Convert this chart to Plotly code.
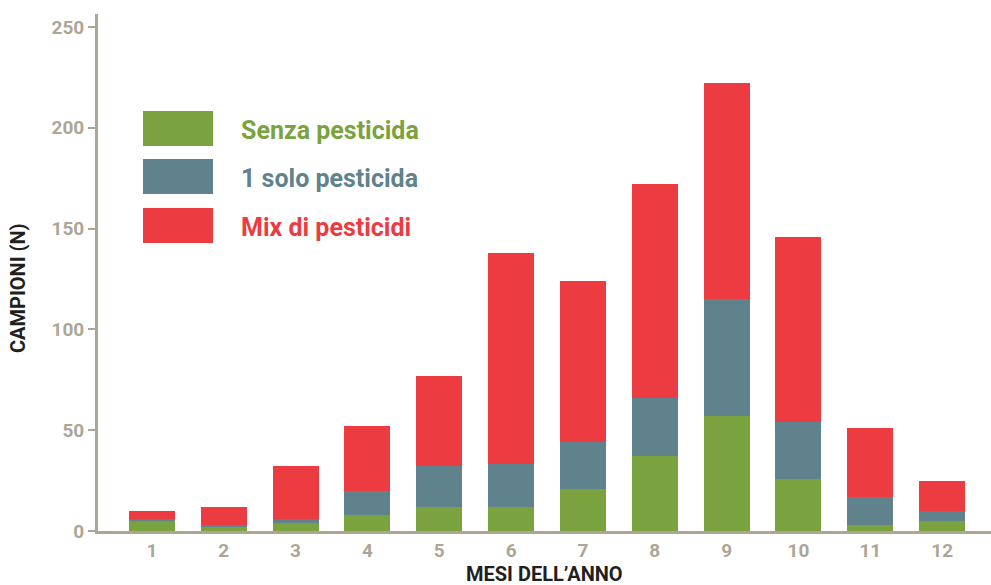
import plotly.graph_objects as go

# Monthly sample counts, split by pesticide residue outcome
months = [1, 2, 3, 4, 5, 6, 7, 8, 9, 10, 11, 12]
month_labels = [str(m) for m in months]
senza_pesticida = [5, 2, 4, 8, 12, 12, 21, 37, 57, 26, 3, 5]
solo_pesticida = [1, 1, 2, 12, 20, 21, 23, 29, 58, 28, 14, 5]
mix_pesticidi = [4, 9, 26, 32, 45, 105, 80, 106, 107, 92, 34, 15]

series_names = ["Senza pesticida", "1 solo pesticida", "Mix di pesticidi"]
series_values = [senza_pesticida, solo_pesticida, mix_pesticidi]
series_colors = ["#7aa33f", "#5f828d", "#ec3b41"]

y_ticks = [0, 50, 100, 150, 200, 250]

AXIS_COLOR = "#aca696"
TITLE_COLOR = "#231f20"
FONT = "Roboto"

PLOT_L, PLOT_R, PLOT_T, PLOT_B = 98, 991, 14, 531
PW, PH = PLOT_R - PLOT_L, PLOT_B - PLOT_T


def px_x(x):
    return (x - PLOT_L) / PW


def px_y(y):
    return (PLOT_B - y) / PH


fig = go.Figure()
for name, vals, col in zip(series_names, series_values, series_colors):
    fig.add_trace(go.Bar(
        x=months, y=vals, name=name,
        marker=dict(color=col, line=dict(width=0)),
    ))

# Hand-built key: colour blocks with matching coloured labels
key_top = [111, 159, 208]
for name, col, top in zip(series_names, series_colors, key_top):
    fig.add_shape(type="rect", xref="paper", yref="paper",
                  x0=px_x(143), x1=px_x(213),
                  y0=px_y(top), y1=px_y(top + 35),
                  fillcolor=col, line=dict(width=0), layer="above")
    fig.add_annotation(xref="paper", yref="paper",
                       x=px_x(239), y=px_y(top + 19),
                       text=f"<b>{name}</b>", showarrow=False,
                       xanchor="left", yanchor="middle",
                       font=dict(family=FONT, size=25, color=col))

# Axis titles
fig.add_annotation(xref="paper", yref="paper",
                   x=px_x(544), y=px_y(585),
                   text="<b>MESI DELL’ANNO</b>", showarrow=False,
                   xanchor="center", yanchor="bottom",
                   height=20, borderpad=0,
                   font=dict(family=FONT, size=20, color=TITLE_COLOR))
fig.add_annotation(xref="paper", yref="paper",
                   x=px_x(18), y=px_y(288),
                   text="<b>CAMPIONI (N)</b>", showarrow=False, textangle=-90,
                   xanchor="center", yanchor="middle",
                   font=dict(family=FONT, size=20, color=TITLE_COLOR))

fig.update_layout(
    barmode="stack",
    bargap=0.36,
    showlegend=False,
    width=991, height=585,
    margin=dict(l=PLOT_L, r=991 - PLOT_R, t=PLOT_T, b=585 - PLOT_B),
    paper_bgcolor="white",
    plot_bgcolor="white",
    font=dict(family=FONT),
    xaxis=dict(
        range=[0.25, 12.68],
        tickmode="array", tickvals=months, ticktext=month_labels,
        showgrid=False, zeroline=False,
        showline=True, linecolor=AXIS_COLOR, linewidth=3,
        ticks="", ticklabelstandoff=0,
        tickfont=dict(family=FONT, size=19, color=AXIS_COLOR, weight="bold"),
    ),
    yaxis=dict(
        range=[0, 250 * PH / 504],
        tickmode="array", tickvals=y_ticks,
        showgrid=False, zeroline=False,
        showline=True, linecolor=AXIS_COLOR, linewidth=3,
        ticks="outside", ticklen=7, tickwidth=2, tickcolor=AXIS_COLOR,
        tickfont=dict(family=FONT, size=19, color=AXIS_COLOR, weight="bold"),
    ),
)

fig.write_html("out.html")
